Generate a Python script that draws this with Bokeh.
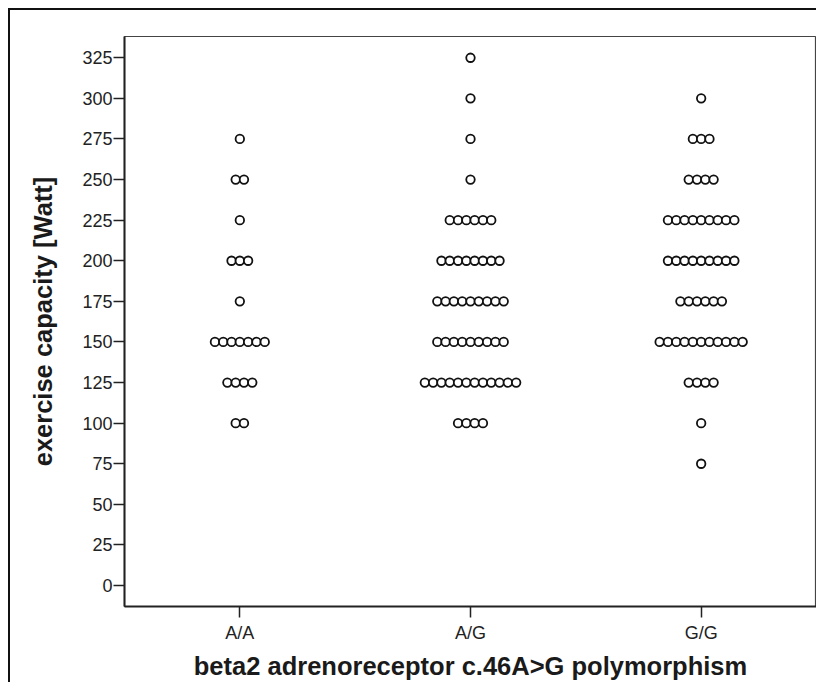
from bokeh.plotting import figure
from bokeh.models import ColumnDataSource, FixedTicker, Range1d
from bokeh.layouts import column
from bokeh.embed import file_html
from bokeh.resources import INLINE

# ---- data ----
groups = ["A/A", "A/G", "G/G"]

aa_values = [275, 250, 225, 200, 175, 150, 125, 100]
aa_counts = [1, 2, 1, 3, 1, 7, 4, 2]

ag_values = [325, 300, 275, 250, 225, 200, 175, 150, 125, 100]
ag_counts = [1, 1, 1, 1, 6, 8, 9, 9, 12, 4]

gg_values = [300, 275, 250, 225, 200, 175, 150, 125, 100, 75]
gg_counts = [1, 3, 4, 9, 9, 6, 11, 4, 1, 1]

y_ticks = list(range(0, 326, 25))

# ---- build dot-plot positions (stacked side by side) ----
step = 0.036  # horizontal spacing between stacked dots (data units)
xs, ys = [], []
for gi, (vals, cnts) in enumerate([(aa_values, aa_counts),
                                   (ag_values, ag_counts),
                                   (gg_values, gg_counts)], start=1):
    for v, n in zip(vals, cnts):
        for k in range(n):
            xs.append(gi + (k - (n - 1) / 2) * step)
            ys.append(v)
src = ColumnDataSource(dict(x=xs, y=ys))

FONT = "Liberation Sans"

p = figure(width=806, height=672, output_backend="svg", toolbar_location=None,
           x_range=Range1d(0.5, 3.5), y_range=Range1d(-12.9, 338.1),
           min_border_left=114, min_border_right=0, min_border_top=26,
           min_border_bottom=75)

p.scatter("x", "y", source=src, marker="circle", size=8.5,
          fill_color="white", line_color="#111111", line_width=1.8)

p.grid.visible = False
p.outline_line_color = "#444444"
p.outline_line_width = 1.2

p.xaxis.ticker = FixedTicker(ticks=[1, 2, 3])
p.xaxis.major_label_overrides = {1: groups[0], 2: groups[1], 3: groups[2]}
p.yaxis.ticker = FixedTicker(ticks=y_ticks)

for ax in (p.xaxis[0], p.yaxis[0]):
    ax.axis_line_color = "#222222"
    ax.axis_line_width = 2
    ax.major_tick_line_color = "#222222"
    ax.major_tick_line_width = 1.5
    ax.major_tick_out = 11
    ax.major_tick_in = 0
    ax.minor_tick_line_color = None
    ax.major_label_text_font = FONT
    ax.major_label_text_font_size = "18px"
    ax.major_label_text_color = "#222222"
    ax.axis_label_text_font = FONT
    ax.axis_label_text_font_style = "bold"
    ax.axis_label_text_font_size = "25.5px"
    ax.axis_label_text_color = "#1a1a1a"

p.xaxis.major_label_standoff = 5
p.yaxis.major_label_standoff = 1
p.xaxis.axis_label = "beta2 adrenoreceptor c.46A>G polymorphism"
p.yaxis.axis_label = "exercise capacity [Watt]"
p.xaxis.axis_label_standoff = 6
p.yaxis.axis_label_standoff = 22

layout = column(p, styles={"border-top": "2.5px solid #111111",
                           "border-left": "2.5px solid #111111",
                           "margin-left": "8px", "margin-top": "8px"})

open("out.html", "w").write(file_html(layout, INLINE))
